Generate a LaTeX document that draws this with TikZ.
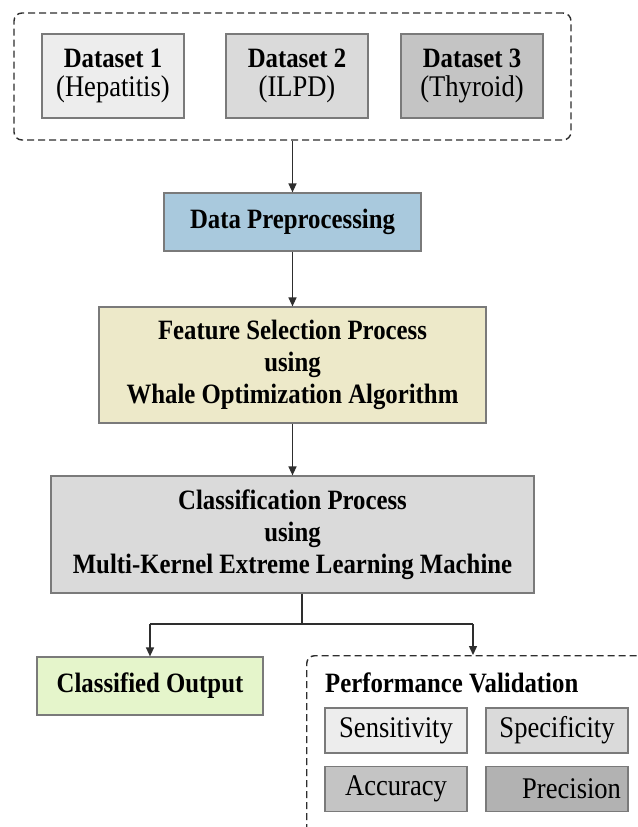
\documentclass[tikz,border=0pt]{standalone}
\usepackage{fontspec}
\setmainfont{Liberation Serif}[FakeStretch=0.885]
\usetikzlibrary{arrows.meta}
\definecolor{bordergray}{HTML}{7A7A7A}
\definecolor{linedark}{HTML}{2E2E2E}
\definecolor{gA}{HTML}{EDEDED}
\definecolor{gB}{HTML}{DADADA}
\definecolor{gC}{HTML}{C4C4C4}
\definecolor{gD}{HTML}{B2B2B2}
\definecolor{dpblue}{HTML}{A9C9DD}
\definecolor{fsbeige}{HTML}{EDE9C9}
\definecolor{cogreen}{HTML}{E5F5CB}
\tikzset{
  boxstyle/.style={draw=bordergray, line width=1.2pt, inner sep=2pt, align=center, text=black},
  boldtxt/.style={font=\fontsize{28}{32}\selectfont\bfseries},
  regtxt/.style={font=\fontsize{30}{32}\selectfont},
  dsbox/.style={boxstyle, minimum width=142pt, minimum height=84pt, font=\fontsize{28}{29}\selectfont},
  dashbox/.style={draw=linedark, line width=1.4pt, dash pattern=on 7pt off 4pt, rounded corners=8pt},
  arr/.style={draw=linedark, line width=1.4pt, -{Triangle[length=9pt,width=8pt]}},
  conn/.style={draw=linedark, line width=1.4pt}
}
\newcommand{\dsname}[1]{{\fontsize{28}{29}\selectfont\bfseries #1}}
\newcommand{\dsdesc}[1]{{\fontsize{30}{29}\selectfont #1}}
\begin{document}
\begin{tikzpicture}[x=1pt,y=-1pt]
\clip (0,0) rectangle (637,827);
\fill[white] (0,0) rectangle (637,827);

% top dashed container
\node[dashbox, minimum width=557pt, minimum height=127pt] (top) at (292.5,76.5) {};
\node[dsbox, fill=gA] (d1) at (113,76) {\dsname{Dataset 1}\\\dsdesc{(Hepatitis)}};
\node[dsbox, fill=gB] (d2) at (297,76) {\dsname{Dataset 2}\\\dsdesc{(ILPD)}};
\node[dsbox, fill=gC] (d3) at (472,76) {\dsname{Dataset 3}\\\dsdesc{(Thyroid)}};

\node[boxstyle, boldtxt, fill=dpblue, minimum width=257pt, minimum height=58pt] (dp) at (292.5,222) {Data Preprocessing};
\node[boxstyle, boldtxt, fill=fsbeige, minimum width=387pt, minimum height=116pt] (fs) at (292.5,365)
  {Feature Selection Process\\using\\Whale Optimization Algorithm};
\node[boxstyle, boldtxt, fill=gB, minimum width=483pt, minimum height=117pt] (cp) at (292.5,534.5)
  {Classification Process\\using\\Multi-Kernel Extreme Learning Machine};
\node[boxstyle, boldtxt, fill=cogreen, minimum width=226pt, minimum height=58pt] (co) at (150,686) {Classified Output};

% performance validation container (runs off the page)
\node[dashbox, anchor=north west, minimum width=360pt, minimum height=200pt] (pv) at (306,655) {};
\node[boldtxt, anchor=west, inner sep=0pt] (pvt) at (325,683) {Performance Validation};
\node[boxstyle, regtxt, fill=gA, minimum width=142pt, minimum height=45pt] (sen) at (396,730.5) {Sensitivity};
\node[boxstyle, regtxt, fill=gB, minimum width=142pt, minimum height=45pt] (spe) at (557,730.5) {Specificity};
\node[boxstyle, regtxt, fill=gC, minimum width=142pt, minimum height=45pt] (acc) at (396,789) {Accuracy};
\node[boxstyle, regtxt, fill=gD, minimum width=142pt, minimum height=45pt, text width=128pt, align=right] (pre) at (557,789) {Precision};

% connectors
\draw[arr] (top.south -| dp.north) -- (dp.north);
\draw[arr] (dp.south) -- (fs.north);
\draw[arr] (fs.south) -- (cp.north);
\coordinate (split) at (302,624);
\coordinate (pvin) at (473,655);
\draw[conn] (cp.south -| split) -- (split);
\draw[conn] (co.north |- split) -- (pvin |- split);
\draw[arr] (co.north |- split) -- (co.north);
\draw[arr] (pvin |- split) -- (pvin);
\end{tikzpicture}
\end{document}
